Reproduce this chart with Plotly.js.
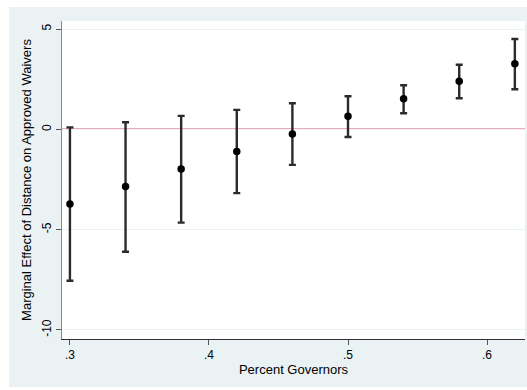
<!DOCTYPE html>
<html>
<head>
<meta charset="utf-8">
<script src="https://cdn.plot.ly/plotly-3.0.1.min.js"></script>
<style>
  html, body { margin: 0; padding: 0; background: #ffffff; }
  #bg { position: absolute; left: 9px; top: 7px; width: 518px; height: 380px; background: #eaf2f3; }
  #chart { position: absolute; left: 0; top: 0; width: 527px; height: 390px; }
</style>
</head>
<body>
<div id="bg"></div>
<div id="chart"></div>
<script>
const percentGovernors = [0.30, 0.34, 0.38, 0.42, 0.46, 0.50, 0.54, 0.58, 0.62];
const marginalEffect   = [-3.72, -2.85, -1.98, -1.10, -0.23, 0.65, 1.52, 2.40, 3.27];
const upperBound       = [0.10, 0.35, 0.67, 0.97, 1.30, 1.65, 2.20, 3.22, 4.50];
const lowerBound       = [-7.55, -6.10, -4.65, -3.18, -1.77, -0.38, 0.80, 1.55, 2.00];

const xTickVals = [0.3, 0.4, 0.5, 0.6];
const xTickText = [".3", ".4", ".5", ".6"];
const yTickVals = [5, 0, -5, -10];
const yTickText = ["5", "0", "-5", "-10"];

const errPlus = marginalEffect.map((v, i) => upperBound[i] - v);
const errMinus = marginalEffect.map((v, i) => v - lowerBound[i]);

const trace = {
  x: percentGovernors,
  y: marginalEffect,
  type: 'scatter',
  mode: 'markers',
  marker: { color: '#000000', size: 7.5 },
  error_y: {
    type: 'data',
    symmetric: false,
    array: errPlus,
    arrayminus: errMinus,
    color: '#2b2b2b',
    thickness: 2.4,
    width: 3.5
  },
  hoverinfo: 'skip'
};

const layout = {
  width: 527,
  height: 390,
  paper_bgcolor: 'rgba(0,0,0,0)',
  plot_bgcolor: '#ffffff',
  margin: { l: 62, r: 2, t: 21, b: 51, pad: 0 },
  showlegend: false,
  font: { family: 'Liberation Sans, Arial, sans-serif', size: 12, color: '#000000' },
  xaxis: {
    range: [0.2943, 0.6273],
    tickvals: xTickVals,
    ticktext: xTickText,
    ticks: 'outside',
    ticklen: 5,
    tickcolor: '#555555',
    tickwidth: 1,
    showline: true,
    linecolor: '#333333',
    linewidth: 1,
    showgrid: false,
    zeroline: false,
    tickfont: { size: 12 },
    title: { text: 'Percent Governors', font: { size: 13 }, standoff: 1 }
  },
  yaxis: {
    range: [-10.45, 5.4],
    tickvals: yTickVals,
    ticktext: yTickText,
    tickangle: -90,
    ticks: 'outside',
    ticklen: 5,
    tickcolor: '#555555',
    tickwidth: 1,
    showline: true,
    linecolor: '#888888',
    linewidth: 1,
    showgrid: true,
    gridcolor: '#eaf2f3',
    gridwidth: 1,
    zeroline: false,
    tickfont: { size: 12 },
    title: { text: 'Marginal Effect of Distance on Approved Waivers', font: { size: 13 }, standoff: 5 }
  },
  shapes: [
    {
      type: 'line', xref: 'paper', x0: 0, x1: 1, yref: 'y', y0: 0, y1: 0,
      line: { color: '#d9546e', width: 1.5 }, layer: 'below'
    }
  ]
};

Plotly.newPlot('chart', [trace], layout, { displayModeBar: false, staticPlot: true });
</script>
</body>
</html>
